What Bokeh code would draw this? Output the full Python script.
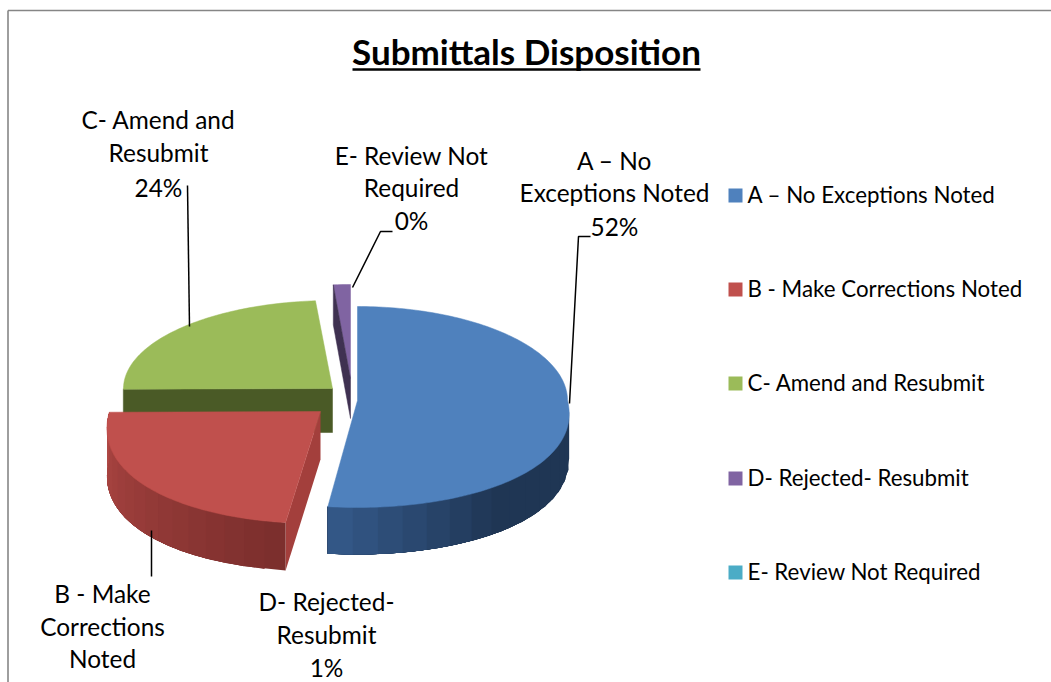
import math
from bokeh.embed import file_html
from bokeh.resources import INLINE
from bokeh.plotting import figure
from bokeh.models import Range1d
from bokeh.core.properties import value

# ---------- data ----------
TITLE = "Submittals Disposition"
CATEGORIES = ["A – No Exceptions Noted", "B - Make Corrections Noted", "C- Amend and Resubmit",
              "D- Rejected- Resubmit", "E- Review Not Required"]
SHARES = [52.0, 22.9, 23.8, 1.3, 0.0]
COLORS = ["#4F81BD", "#C0504D", "#9BBB59", "#8064A2", "#4BACC6"]

# ---------- layout (page pixels) ----------
W, H = 1051, 682
FONT = "Lato"
LEGEND_SIZE = "22.3px"
LABEL_SIZE = "24.4px"
APEX = [(357, 400), (320, 411), (332, 388), (350, 378), (350, 378)]
DEPTH = [47, 48, 44, 40, 40]
RX = [210, 211, 209, 211, 211]
RY_BACK = [94, 94, 88, 94, 94]
RY_FRONT = [107, 112, 110, 110, 110]
SKEW = 0.0012
VANISH_X = 357
SIDE_GRAD = [[("#35598A", 0.0), ("#1F3654", 0.45), ("#1F3654", 1.0)],
             [("#7A2E2C", 0.0), ("#B04744", 1.0)]]
CUT_FACE = ["#2F5078", "#A33F3C", "#4A5A26", "#3F3151"]
LABEL_LINES = [
    (["A – No", "Exceptions Noted"], 614, [160, 192], 0, 226),
    (["B - Make", "Corrections", "Noted"], 102, [593, 626, 658], None, None),
    (["C- Amend and", "Resubmit"], 158, [119, 152], 2, 187),
    (["D- Rejected-", "Resubmit"], 326, [601, 634], 3, 667),
    (["E- Review Not", "Required"], 411, [155, 187], 4, 220),
]
LEADERS = [([569, 578, 590], [403, 236, 236]),
           ([151, 151], [530, 576]),
           ([189, 187], [326, 185]),
           ([352, 380, 392], [287, 231, 231])]
LEGEND_X, LEGEND_Y = 735, [195, 289, 383, 478, 572]

p = figure(width=W, height=H, x_range=Range1d(0, W), y_range=Range1d(H, 0),
           x_axis_location=None, y_axis_location=None, toolbar_location=None,
           output_backend="svg", min_border=0, outline_line_color=None,
           background_fill_color="white", border_fill_color="white")
p.grid.visible = False


def pt(i, th):
    ax, ay = APEX[i]
    c, s = math.cos(th), math.sin(th)
    x = ax + RX[i] * s
    dy = -RY_BACK[i] * c if c > 0 else -RY_FRONT[i] * c
    if dy > 0:
        x += (x - VANISH_X) * SKEW * dy
    return x, ay + dy


def mix(a, b, t):
    ca = [int(a[k:k + 2], 16) for k in (1, 3, 5)]
    cb = [int(b[k:k + 2], 16) for k in (1, 3, 5)]
    return "#%02x%02x%02x" % tuple(round(u + (v - u) * t) for u, v in zip(ca, cb))


def grad(stops, t):
    for (c0, t0), (c1, t1) in zip(stops, stops[1:]):
        if t <= t1:
            return mix(c0, c1, (t - t0) / (t1 - t0))
    return stops[-1][0]


# slice angles, clockwise from 12 o'clock
total = sum(SHARES)
angles, a0 = [], 0.0
for v in SHARES:
    a1 = a0 + v / total * 2 * math.pi
    angles.append((a0, a1))
    a0 = a1


def top_face(i):
    a, b = angles[i]
    n = max(4, int((b - a) * 50))
    P = [APEX[i]] + [pt(i, a + (b - a) * k / n) for k in range(n + 1)]
    return [q[0] for q in P], [q[1] for q in P]


# border
p.line([7.5, 7.5], [682, 10], line_color="#868686", line_width=1.6)
p.line([7.5, 1051], [10, 10], line_color="#868686", line_width=1.6)

# D: purple sliver
i = 3
tx, ty = pt(i, angles[i][0])
ax, ay = APEX[i]
xs, ys = top_face(i)
p.patch(xs, ys, fill_color=COLORS[i], line_color=COLORS[i], line_width=0.5)
p.patch([tx, tx, ax, ax], [ty, ty + DEPTH[i], ay + DEPTH[i], ay],
        fill_color=CUT_FACE[i], line_color=CUT_FACE[i], line_width=0.5)

# C: green slice with flat cut face in front
i = 2
ax, ay = APEX[i]
lx, ly = pt(i, angles[i][0])
p.patch([lx, ax, ax, lx], [ly, ay, ay + DEPTH[i], ly + DEPTH[i]],
        fill_color=CUT_FACE[i], line_color=CUT_FACE[i], line_width=0.5)
xs, ys = top_face(i)
p.patch(xs, ys, fill_color=COLORS[i], line_color=COLORS[i], line_width=0.5)

# B then A: outer wall strips, radial cut face, top face
for i, stops in ((1, SIDE_GRAD[1]), (0, SIDE_GRAD[0])):
    a, b = angles[i]
    ax, ay = APEX[i]
    if i == 1:
        tx, ty = pt(i, a)
        p.patch([ax, tx, tx, ax], [ay, ty, ty + DEPTH[i], ay + DEPTH[i]],
                fill_color=CUT_FACE[i], line_color=None)
    a_vis = max(a, math.pi / 2)
    b_vis = min(b, 1.5 * math.pi)
    n = 16
    for k in range(n):
        t0 = a_vis + (b_vis - a_vis) * k / n
        # every strip runs on to the far end, so later strips cover it without seams
        m = 8
        P = [pt(i, t0 + (b_vis - t0) * j / m) for j in range(m + 1)]
        g = (k + 0.5) / n
        col = grad(stops, 1 - g if i == 0 else g)
        p.patch([q[0] for q in P] + [q[0] for q in reversed(P)],
                [q[1] for q in P] + [q[1] + DEPTH[i] for q in reversed(P)],
                fill_color=col, line_color=None)
    xs, ys = top_face(i)
    p.patch(xs, ys, fill_color=COLORS[i], line_color=COLORS[i], line_width=0.5)

# leaders
for lx, ly in LEADERS:
    p.line(lx, ly, line_color="black", line_width=1.5)

# data labels
tx, ty, tt = [], [], []
for lines, cx, yy, idx, py in LABEL_LINES:
    for s, y in zip(lines, yy):
        tx.append(cx); ty.append(y); tt.append(s)
    if idx is not None:
        tx.append(cx); ty.append(py); tt.append(f"{round(SHARES[idx])}%")
p.text(tx, ty, text=tt, text_font=value(FONT), text_font_size=LABEL_SIZE, text_color="black",
       text_align="center", text_baseline="middle")

# legend
p.scatter([LEGEND_X] * 5, LEGEND_Y, marker="square", size=14, fill_color=COLORS, line_color=None)
p.text([LEGEND_X + 12] * 5, [y - 1 for y in LEGEND_Y], text=CATEGORIES, text_font=value(FONT),
       text_font_size=LEGEND_SIZE, text_color="black", text_align="left", text_baseline="middle")

# title
p.text([526], [50], text=[TITLE], text_font=value(FONT), text_font_style="bold", text_font_size="35px",
       text_color="black", text_align="center", text_baseline="middle")
p.line([352, 700], [69, 69], line_color="black", line_width=2.5)

open("out.html", "w").write(file_html(p, INLINE))
